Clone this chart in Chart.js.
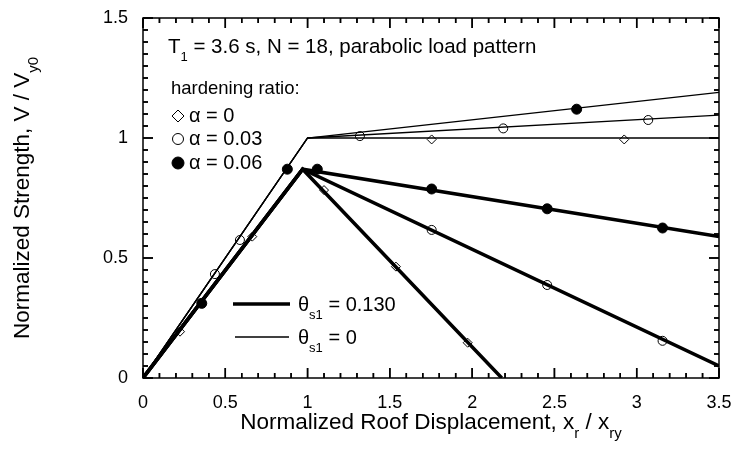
<!DOCTYPE html>
<html>
<head>
<meta charset="utf-8">
<script src="https://cdn.jsdelivr.net/npm/chart.js@4.4.0/dist/chart.umd.min.js"></script>
<style>
  html, body { margin: 0; padding: 0; background: #fff; }
  #wrap { width: 732px; height: 450px; }
</style>
</head>
<body>
<div id="wrap"><canvas id="chart" width="732" height="450"></canvas></div>
<script>
// Axis ranges / ticks
const xTicks = [0, 0.5, 1, 1.5, 2, 2.5, 3, 3.5];
const yTicks = [0, 0.5, 1, 1.5];

// Thin lines (theta_s1 = 0): elastic to (1,1) then hardening branch
const thinX = [0, 1, 3.5];
const thinA0 = [0, 1, 1];
const thinA03 = [0, 1, 1.095];
const thinA06 = [0, 1, 1.19];

// Thick lines (theta_s1 = 0.130): elastic to peak, then negative slope
const thickX0 = [0, 0.97, 2.18];
const thickA0 = [0, 0.87, 0];
const thickX = [0, 0.97, 3.5];
const thickA03 = [0, 0.87, 0.05];
const thickA06 = [0, 0.87, 0.59];

// Markers
const diamondX = [0.225, 0.664, 1.10, 1.537, 1.973, 1.754, 2.924];
const diamondY = [0.193, 0.589, 0.783, 0.464, 0.147, 0.994, 0.994];
const circleX = [0.437, 0.589, 1.318, 2.189, 3.07, 1.754, 2.456, 3.157];
const circleY = [0.433, 0.575, 1.008, 1.040, 1.075, 0.617, 0.3875, 0.155];
const filledX = [0.357, 0.877, 1.059, 2.635, 1.754, 2.456, 3.157];
const filledY = [0.311, 0.870, 0.870, 1.12, 0.7875, 0.705, 0.625];

// minor tick counts (0.1 on x, 0.05 on y)
const xMinorCount = 35;
const yMinorCount = 30;

const FONT = '"Liberation Sans", Arial, Helvetica, sans-serif';

function pts(xs, ys) {
    return xs.map((x, i) => ({ x: x, y: ys[i] }));
}

function lineSet(xs, ys, w) {
    return {
        data: pts(xs, ys),
        showLine: true,
        borderColor: '#000',
        borderWidth: w,
        pointRadius: 0,
        fill: false
    };
}

function markerSet(xs, ys, style, r, fillCol) {
    return {
        data: pts(xs, ys),
        showLine: false,
        pointStyle: style,
        pointRadius: r,
        pointBackgroundColor: fillCol,
        pointBorderColor: '#000',
        pointBorderWidth: 1
    };
}

// text with subscripts: parts = [[text, isSub], ...]
function drawParts(ctx, parts, x, y, size) {
    let cx = x;
    parts.forEach(p => {
        const sub = p[1];
        ctx.font = (sub ? Math.round(size * 0.65) : size) + 'px ' + FONT;
        ctx.fillText(p[0], cx, sub ? y + size * 0.38 : y);
        cx += ctx.measureText(p[0]).width;
    });
    return cx - x;
}

function partsWidth(ctx, parts, size) {
    let w = 0;
    parts.forEach(p => {
        ctx.font = (p[1] ? Math.round(size * 0.65) : size) + 'px ' + FONT;
        w += ctx.measureText(p[0]).width;
    });
    return w;
}

function drawMarker(ctx, style, x, y, r) {
    ctx.save();
    ctx.lineWidth = 1;
    ctx.strokeStyle = '#000';
    ctx.beginPath();
    if (style === 'diamond') {
        ctx.moveTo(x, y - r); ctx.lineTo(x + r, y); ctx.lineTo(x, y + r); ctx.lineTo(x - r, y); ctx.closePath();
        ctx.fillStyle = '#fff';
    } else {
        ctx.arc(x, y, r, 0, Math.PI * 2);
        ctx.fillStyle = style === 'filled' ? '#000' : '#fff';
    }
    ctx.fill();
    ctx.stroke();
    ctx.restore();
}

function seg(ctx, x1, y1, x2, y2) {
    ctx.beginPath();
    ctx.moveTo(x1, y1);
    ctx.lineTo(x2, y2);
    ctx.stroke();
}

// inward ticks on all four sides, positioned through the scales
function drawTicks(chart) {
    const ctx = chart.ctx;
    const a = chart.chartArea;
    const xs = chart.scales.x, ys = chart.scales.y;
    ctx.save();
    ctx.strokeStyle = '#000';
    ctx.lineWidth = 1.5;
    for (let i = 0; i <= xMinorCount; i++) {
        const px = xs.getPixelForDecimal(i / xMinorCount);
        const len = (i % 5 === 0) ? 10 : 5;
        seg(ctx, px, a.bottom, px, a.bottom - len);
        seg(ctx, px, a.top, px, a.top + len);
    }
    for (let i = 0; i <= yMinorCount; i++) {
        const py = ys.getPixelForDecimal(i / yMinorCount);
        const len = (i % 10 === 0) ? 10 : 5;
        seg(ctx, a.left, py, a.left + len, py);
        seg(ctx, a.right, py, a.right - len, py);
    }
    ctx.restore();
}

const framePlugin = {
    id: 'frame',
    afterDatasetsDraw(chart) {
        drawTicks(chart);
    },
    afterDraw(chart) {
        const ctx = chart.ctx;
        const a = chart.chartArea;
        ctx.save();
        ctx.strokeStyle = '#000';
        ctx.lineWidth = 1.5;
        ctx.strokeRect(a.left, a.top, a.right - a.left, a.bottom - a.top);
        ctx.restore();

        drawTicks(chart);

        ctx.save();
        ctx.strokeStyle = '#000';
        ctx.fillStyle = '#000';
        ctx.textAlign = 'left';
        ctx.textBaseline = 'alphabetic';

        // title and legend text
        drawParts(ctx, [['T', false], ['1', true], [' = 3.6 s, N = 18, parabolic load pattern', false]], 168, 53, 20.5);
        drawParts(ctx, [['hardening ratio:', false]], 171, 94, 18.5);
        drawMarker(ctx, 'diamond', 178, 116, 6);
        drawParts(ctx, [['\u03b1 = 0', false]], 189, 122, 20);
        drawMarker(ctx, 'open', 178, 139, 5.5);
        drawParts(ctx, [['\u03b1 = 0.03', false]], 189, 145, 20);
        drawMarker(ctx, 'filled', 178, 163, 6);
        drawParts(ctx, [['\u03b1 = 0.06', false]], 189, 169, 20);

        // line-width legend
        ctx.lineWidth = 3.5;
        seg(ctx, 233, 304, 290, 304);
        ctx.lineWidth = 1.3;
        seg(ctx, 235, 337, 289, 337);
        drawParts(ctx, [['\u03b8', false], ['s1', true], [' = 0.130', false]], 298, 311, 20);
        drawParts(ctx, [['\u03b8', false], ['s1', true], [' = 0', false]], 298, 344, 20);

        // axis titles
        const xt = [['Normalized Roof Displacement, x', false], ['r', true], [' / x', false], ['ry', true]];
        const xw = partsWidth(ctx, xt, 22.5);
        drawParts(ctx, xt, (a.left + a.right) / 2 - xw / 2, 429, 22.5);

        const yt = [['Normalized Strength, V / V', false], ['y0', true]];
        const yw = partsWidth(ctx, yt, 22.5);
        ctx.translate(29, 198);
        ctx.rotate(-Math.PI / 2);
        drawParts(ctx, yt, -yw / 2, 0, 22.5);
        ctx.restore();
    }
};

new Chart(document.getElementById('chart'), {
    type: 'scatter',
    data: {
        datasets: [
            lineSet(thinX, thinA0, 1.3),
            lineSet(thinX, thinA03, 1.3),
            lineSet(thinX, thinA06, 1.3),
            lineSet(thickX0, thickA0, 3.5),
            lineSet(thickX, thickA03, 3.5),
            lineSet(thickX, thickA06, 3.5),
            markerSet(diamondX, diamondY, 'rectRot', 4.5, '#fff'),
            markerSet(circleX, circleY, 'circle', 4.5, '#fff'),
            markerSet(filledX, filledY, 'circle', 5, '#000')
        ]
    },
    options: {
        responsive: false,
        animation: false,
        devicePixelRatio: 1,
        layout: { padding: { left: 0, top: 18, right: 13, bottom: 0 } },
        plugins: {
            legend: { display: false },
            tooltip: { enabled: false }
        },
        scales: {
            x: {
                type: 'linear',
                min: 0,
                max: 3.5,
                grid: { display: false, drawTicks: false },
                border: { display: false },
                afterBuildTicks: scale => { scale.ticks = xTicks.map(v => ({ value: v })); },
                afterFit: scale => {
                    scale.height = 72;
                    scale.paddingLeft = 0;
                    scale.paddingRight = 0;
                },
                ticks: {
                    color: '#000',
                    padding: 14,
                    maxRotation: 0,
                    callback: v => String(v),
                    font: { family: FONT, size: 18 }
                }
            },
            y: {
                type: 'linear',
                min: 0,
                max: 1.5,
                grid: { display: false, drawTicks: false },
                border: { display: false },
                afterBuildTicks: scale => { scale.ticks = yTicks.map(v => ({ value: v })); },
                afterFit: scale => {
                    scale.width = 143;
                    scale.paddingTop = 0;
                    scale.paddingBottom = 0;
                },
                ticks: {
                    color: '#000',
                    padding: 15,
                    callback: v => String(v),
                    font: { family: FONT, size: 18 }
                }
            }
        }
    },
    plugins: [framePlugin]
});
</script>
</body>
</html>
